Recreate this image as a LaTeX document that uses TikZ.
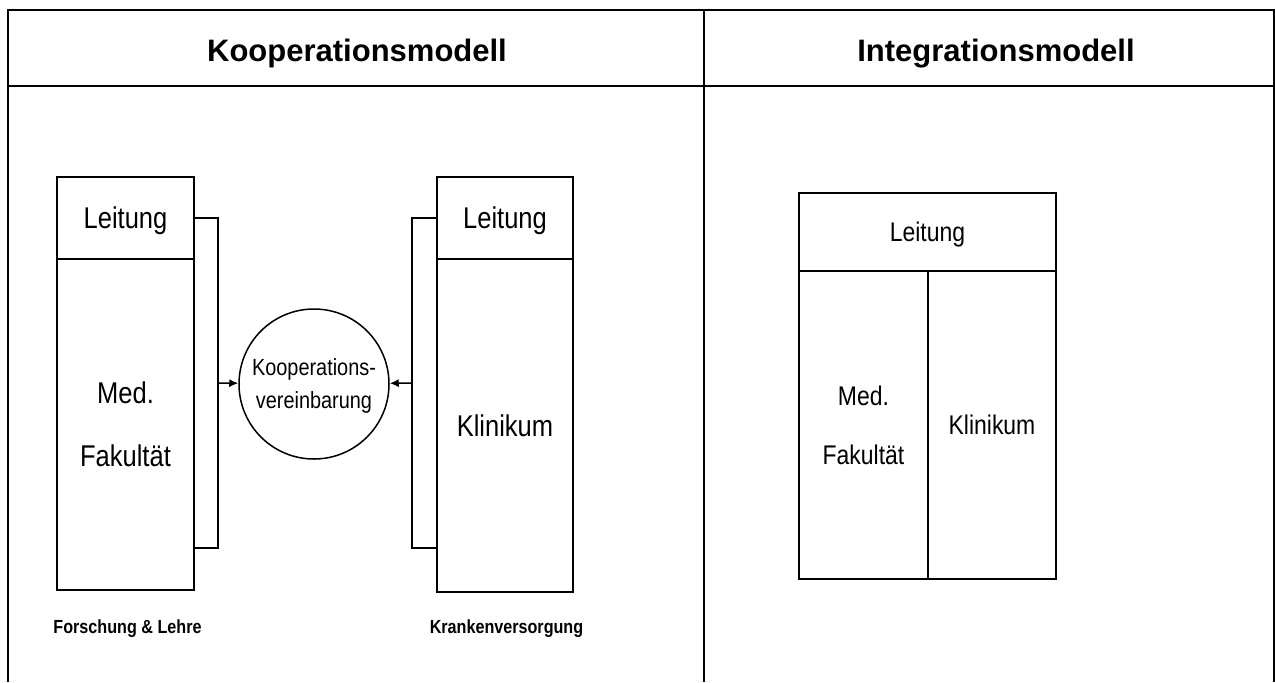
\documentclass[tikz,border=0pt]{standalone}
\usepackage{fontspec}
\setmainfont{Liberation Sans}
\newfontfamily\narrowfont[FakeStretch=0.85]{Liberation Sans}
\usepackage{tikz}
\usetikzlibrary{shapes.geometric, arrows.meta, positioning}

\begin{document}
\begin{tikzpicture}[
    x=0.5pt, y=-0.5pt,
    node distance=0pt,
    frame/.style={line width=1.1pt},
    head/.style={font=\bfseries\fontsize{15.5}{18}\selectfont, anchor=base},
    box/.style={draw, rectangle, line width=0.75pt, inner sep=0pt, outer sep=0pt, text depth=0pt, align=center, font=\narrowfont\fontsize{15}{31.5}\selectfont},
    smallbox/.style={box, font=\narrowfont\fontsize{13.5}{29.5}\selectfont},
    oval/.style={draw, circle, line width=0.75pt, inner sep=0pt, text depth=0pt, minimum size=75pt, align=center, font=\narrowfont\fontsize{11.7}{16.5}\selectfont},
    caption/.style={font=\narrowfont\bfseries\fontsize{9.5}{11}\selectfont, anchor=base},
    link/.style={line width=0.75pt},
    arrow/.style={-{Latex[length=4.5pt,width=4pt]}, line width=0.75pt}
]
\useasboundingbox (0,0) rectangle (1275,682);

% table
\draw[frame] (8,682) -- (8,10) -- (1274,10) -- (1274,682);
\draw[frame] (8,86) -- (1274,86);
\draw[frame] (704,10) -- (704,682);
\node[head] (khead) at (357,61) {Kooperationsmodell};
\node[head] (ihead) at (996,61) {Integrationsmodell};

% Kooperationsmodell
\node[box, minimum width=68.5pt, minimum height=41pt] (lleit) at (125.5,218) {Leitung};
\node[box, below=of lleit, minimum width=68.5pt, minimum height=165.5pt] (lfak) {Med.\\Fakultät};
\node[box, minimum width=68pt, minimum height=41pt] (rleit) at (505,218) {Leitung};
\node[box, below=of rleit, minimum width=68pt, minimum height=166.5pt] (klin) {Klinikum};
\node[oval] (koop) at (314,384) {Kooperations-\\vereinbarung};
\coordinate (lknee) at (218,383);
\coordinate (rknee) at (412,383);

\draw[link] (lleit.east) -- ++(24,0) -- ([xshift=12pt,yshift=21pt]lfak.south east) -- ([yshift=21pt]lfak.south east);
\draw[link] (rleit.west) -- ++(-25,0) -- ([xshift=-12.5pt,yshift=22pt]klin.south west) -- ([yshift=22pt]klin.south west);
\draw[arrow] (lknee) -- (koop);
\draw[arrow] (rknee) -- (koop);

\node[caption] (forsch) at (127.5,633) {Forschung \& Lehre};
\node[caption] (kranken) at (506.5,633) {Krankenversorgung};

% Integrationsmodell
\node[smallbox, minimum width=128.5pt, minimum height=39pt] (ileit) at (927.5,232) {Leitung};
\node[smallbox, below right=of ileit.south west, minimum width=64.5pt, minimum height=154pt] (ifak) {Med.\\Fakultät};
\node[smallbox, right=of ifak, minimum width=64pt, minimum height=154pt] (iklin) {Klinikum};
\end{tikzpicture}
\end{document}
